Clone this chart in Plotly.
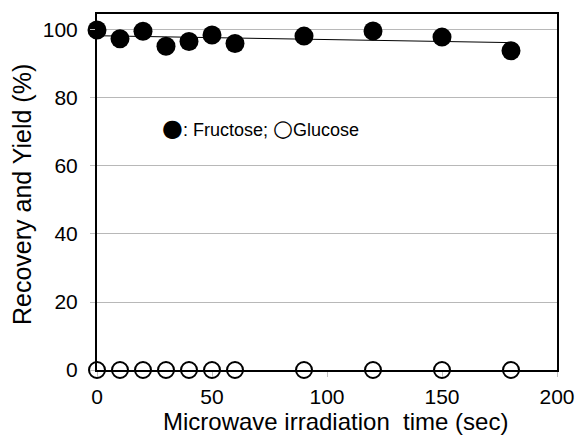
import numpy as np
import plotly.graph_objects as go

time_sec = [0, 10, 20, 30, 40, 50, 60, 90, 120, 150, 180]
fructose = [100.0, 97.4, 99.6, 95.2, 96.6, 98.5, 96.0, 98.2, 99.7, 97.9, 93.9]
glucose = [0, 0, 0, 0, 0, 0, 0, 0, 0, 0, 0]

x_ticks = [0, 50, 100, 150, 200]
y_ticks = [0, 20, 40, 60, 80, 100]

coef = np.polyfit(time_sec, fructose, 1)
trend_x = [min(time_sec), max(time_sec)]
trend_y = [float(np.polyval(coef, v)) for v in trend_x]

font = "Liberation Sans, Arial, sans-serif"

fig = go.Figure()
fig.add_trace(go.Scatter(x=trend_x, y=trend_y, mode="lines",
                         line=dict(color="black", width=1), showlegend=False,
                         cliponaxis=False))
fig.add_trace(go.Scatter(x=time_sec, y=glucose, mode="markers",
                         marker=dict(symbol="circle-open", size=16, color="black",
                                     line=dict(width=2, color="black")),
                         showlegend=False, cliponaxis=False))
fig.add_trace(go.Scatter(x=time_sec, y=fructose, mode="markers",
                         marker=dict(symbol="circle", size=19, color="black"),
                         showlegend=False, cliponaxis=False))

fig.add_annotation(x=(160 - 97) / 460, y=(370 - 128) / 356, xref="paper",
                   yref="paper", xanchor="left", yanchor="middle",
                   showarrow=False,
                   text=("<span style='font-family:DejaVu Sans;font-size:24px'>●</span>"
                         ": Fructose; "
                         "<span style='font-family:DejaVu Sans;font-size:23px'>○</span>"
                         "Glucose"),
                   font=dict(family=font, size=18, color="black"))
# axis titles as annotations for precise placement
fig.add_annotation(x=0.5, y=0, xref="paper", yref="paper", showarrow=False,
                   xshift=8, yshift=-36, yanchor="top", xanchor="center",
                   text="Microwave irradiation&nbsp;&nbsp;time (sec)",
                   font=dict(family=font, size=24, color="black"))
fig.add_annotation(x=0, y=0.5, xref="paper", yref="paper", showarrow=False,
                   xshift=-75, yshift=-3, textangle=-90,
                   xanchor="center", yanchor="middle",
                   text="Recovery and Yield (%)",
                   font=dict(family=font, size=25, color="black"))

fig.update_layout(
    width=576, height=435,
    margin=dict(l=97, r=19, t=14, b=65),
    paper_bgcolor="white", plot_bgcolor="white",
    font=dict(family=font, color="black"),
    xaxis=dict(range=[0, 200], tickvals=x_ticks, automargin=False,
               showgrid=False, zeroline=False, showline=True, linecolor="black",
               linewidth=2, mirror=True, ticks="outside", ticklen=5,
               tickcolor="#c0c0c0", tickfont=dict(size=21),
               ticklabelstandoff=2),
    yaxis=dict(range=[0, 104.7], tickvals=y_ticks, automargin=False,
               showgrid=True, gridcolor="#b8b8b8", gridwidth=1, zeroline=False,
               showline=True, linecolor="black", linewidth=2, mirror=True,
               ticks="outside", ticklen=5, tickcolor="#c0c0c0",
               tickfont=dict(size=21), ticklabelstandoff=8),
)

fig.write_html("out.html", config={"displayModeBar": False},
               post_script="document.body.style.margin='0';document.body.style.overflow='hidden';")
